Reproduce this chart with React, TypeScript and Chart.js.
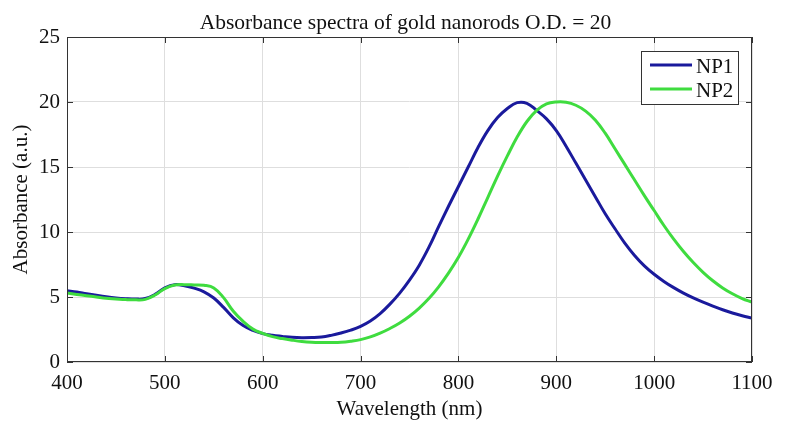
import React, { useEffect, useRef } from "react";
import { Chart, registerables } from "chart.js";

Chart.register(...registerables);

const wavelengths: number[] = [];
for (let w = 400; w <= 1100; w += 10) wavelengths.push(w);

const np1: number[] = [
  5.48, 5.38, 5.25, 5.13, 5.02, 4.93, 4.87, 4.84, 4.88, 5.2,
  5.7, 5.95, 5.87, 5.68, 5.4, 4.92, 4.2, 3.4, 2.8, 2.43,
  2.18, 2.05, 1.97, 1.9, 1.87, 1.88, 1.92, 2.05, 2.23, 2.45,
  2.74, 3.15, 3.72, 4.45, 5.3, 6.3, 7.45, 8.85, 10.45, 12.0,
  13.5, 15.0, 16.5, 17.8, 18.8, 19.5, 19.95, 19.9, 19.35, 18.7,
  17.8, 16.6, 15.3, 14.0, 12.7, 11.4, 10.25, 9.15, 8.2, 7.4,
  6.75, 6.2, 5.72, 5.3, 4.93, 4.6, 4.3, 4.02, 3.77, 3.56,
  3.38,
];

const np2: number[] = [
  5.3, 5.2, 5.1, 5.0, 4.9, 4.85, 4.8, 4.78, 4.82, 5.15,
  5.65, 5.92, 5.95, 5.93, 5.9, 5.7, 4.95, 3.9, 3.12, 2.53,
  2.2, 1.95, 1.8, 1.68, 1.58, 1.52, 1.5, 1.5, 1.52, 1.6,
  1.72, 1.93, 2.22, 2.58, 3.0, 3.52, 4.15, 4.9, 5.8, 6.85,
  8.05, 9.45, 11.0, 12.65, 14.3, 15.85, 17.3, 18.5, 19.35, 19.85,
  20.0, 19.98, 19.75, 19.3, 18.6, 17.6, 16.4, 15.2, 14.0, 12.8,
  11.65, 10.5, 9.45, 8.5, 7.65, 6.9, 6.25, 5.7, 5.25, 4.88,
  4.6,
];

const xTicks = [400, 500, 600, 700, 800, 900, 1000, 1100];
const yTicks = [0, 5, 10, 15, 20, 25];
const titleText = "Absorbance spectra of gold nanorods O.D. = 20";
const xTitle = "Wavelength (nm)";
const yTitle = "Absorbance (a.u.)";
const seriesNames = ["NP1", "NP2"];
const seriesColors = ["#1a1a9c", "#3fdc3f"];

const FONT = "'Liberation Serif', 'Times New Roman', serif";

const framePlugin = {
  id: "frame",
  afterDraw(chart: any) {
    const { ctx, chartArea } = chart;
    const { left, right, top, bottom } = chartArea;
    const xs = chart.scales.x;
    const ys = chart.scales.y;
    ctx.save();
    ctx.strokeStyle = "#333333";
    ctx.lineWidth = 1;
    ctx.strokeRect(left + 0.5, top + 0.5, right - left - 1, bottom - top - 1);
    const tl = 6;
    ctx.beginPath();
    xTicks.forEach((v) => {
      const px = Math.round(xs.getPixelForValue(v)) + 0.5;
      ctx.moveTo(px, bottom);
      ctx.lineTo(px, bottom - tl);
      ctx.moveTo(px, top);
      ctx.lineTo(px, top + tl);
    });
    yTicks.forEach((v) => {
      const py = Math.round(ys.getPixelForValue(v)) + 0.5;
      ctx.moveTo(left, py);
      ctx.lineTo(left + tl, py);
      ctx.moveTo(right, py);
      ctx.lineTo(right - tl, py);
    });
    ctx.stroke();

    // title
    ctx.fillStyle = "#111111";
    ctx.font = `21.5px ${FONT}`;
    ctx.textAlign = "center";
    ctx.textBaseline = "alphabetic";
    ctx.fillText(titleText, (left + right) / 2 - 4, 29);

    // legend
    const lx = 641, ly = 51, lw = 97, lh = 53;
    ctx.fillStyle = "#ffffff";
    ctx.fillRect(lx, ly, lw, lh);
    ctx.strokeStyle = "#333333";
    ctx.lineWidth = 1;
    ctx.strokeRect(lx + 0.5, ly + 0.5, lw, lh);
    const rows = [65, 89];
    ctx.font = `21px ${FONT}`;
    chart.data.datasets.forEach((ds: any) => {
      const idx = seriesNames.indexOf(ds.label);
      const yy = rows[idx];
      ctx.strokeStyle = ds.borderColor;
      ctx.lineWidth = 3;
      ctx.beginPath();
      ctx.moveTo(650, yy);
      ctx.lineTo(692, yy);
      ctx.stroke();
      ctx.fillStyle = "#111111";
      ctx.textAlign = "left";
      ctx.textBaseline = "alphabetic";
      ctx.fillText(ds.label, 696, yy + 8);
    });
    ctx.restore();
  },
};

export default function App() {
  const ref = useRef<HTMLCanvasElement | null>(null);
  useEffect(() => {
    if (!ref.current) return;
    const chart = new Chart(ref.current, {
      type: "line",
      data: {
        datasets: [
          {
            label: seriesNames[0],
            data: wavelengths.map((w, i) => ({ x: w, y: np1[i] })),
            borderColor: seriesColors[0],
            borderWidth: 3,
            pointRadius: 0,
            tension: 0.4,
            fill: false,
            order: 1,
          },
          {
            label: seriesNames[1],
            data: wavelengths.map((w, i) => ({ x: w, y: np2[i] })),
            borderColor: seriesColors[1],
            borderWidth: 3,
            pointRadius: 0,
            tension: 0.4,
            fill: false,
            order: 0,
          },
        ],
      },
      options: {
        animation: false,
        responsive: true,
        maintainAspectRatio: false,
        layout: { padding: { left: 0, right: 34, top: 37, bottom: 0 } },
        plugins: {
          legend: { display: false },
          tooltip: { enabled: false },
          title: { display: false },
        },
        scales: {
          x: {
            type: "linear",
            min: 400,
            max: 1100,
            afterBuildTicks: (s: any) => {
              s.ticks = xTicks.map((v) => ({ value: v }));
            },
            afterFit: (s: any) => {
              s.height = 69;
            },
            ticks: {
              font: { family: FONT, size: 21 },
              color: "#111111",
              padding: 9,
              maxRotation: 0,
              autoSkip: false,
              callback: (v: any) => String(v),
            },
            grid: { color: "#dedede", drawTicks: false, lineWidth: 1 },
            border: { display: false },
            title: {
              display: true,
              text: xTitle,
              font: { family: FONT, size: 21 },
              color: "#111111",
              padding: 9,
            },
          },
          y: {
            type: "linear",
            min: 0,
            max: 25,
            afterBuildTicks: (s: any) => {
              s.ticks = yTicks.map((v) => ({ value: v }));
            },
            afterFit: (s: any) => {
              s.width = 67;
            },
            ticks: {
              font: { family: FONT, size: 21 },
              color: "#111111",
              padding: 7,
              autoSkip: false,
              callback: (v: any) => String(v),
            },
            grid: { color: "#dedede", drawTicks: false, lineWidth: 1 },
            border: { display: false },
            title: {
              display: true,
              text: yTitle,
              font: { family: FONT, size: 21 },
              color: "#111111",
              padding: 9,
            },
          },
        },
      },
      plugins: [framePlugin],
    });
    return () => chart.destroy();
  }, []);
  return (
    <div style={{ position: "absolute", left: 0, top: 0, width: 786, height: 431, background: "#fff" }}>
      <canvas ref={ref} />
    </div>
  );
}
